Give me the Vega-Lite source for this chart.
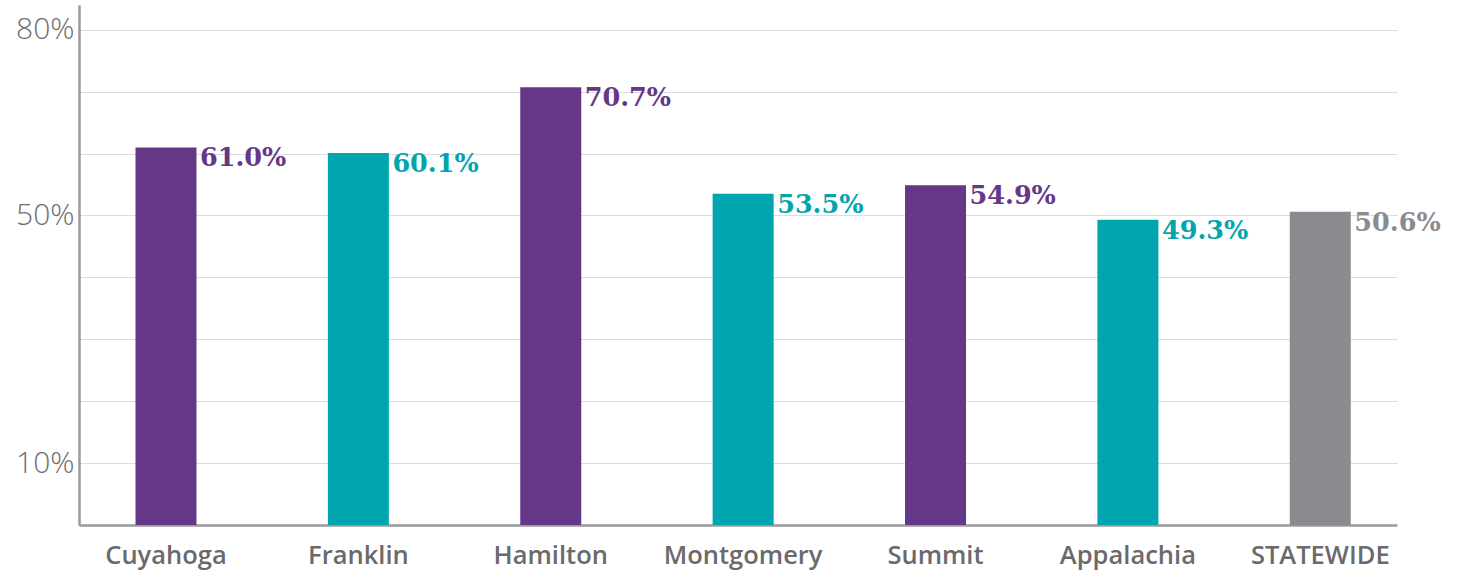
{
  "$schema": "https://vega.github.io/schema/vega-lite/v6.json",
  "autosize": "none",
  "width": 1318,
  "height": 520,
  "padding": {"left": 79, "top": 5, "right": 60, "bottom": 46},
  "background": "white",
  "config": {"view": {"stroke": null}},
  "data": {"values": [
    {"region": "Cuyahoga", "value": 61.0, "label": "61.0%", "grp": "a"},
    {"region": "Franklin", "value": 60.1, "label": "60.1%", "grp": "b"},
    {"region": "Hamilton", "value": 70.7, "label": "70.7%", "grp": "a"},
    {"region": "Montgomery", "value": 53.5, "label": "53.5%", "grp": "b"},
    {"region": "Summit", "value": 54.9, "label": "54.9%", "grp": "a"},
    {"region": "Appalachia", "value": 49.3, "label": "49.3%", "grp": "b"},
    {"region": "STATEWIDE", "value": 50.6, "label": "50.6%", "grp": "c"}
  ]},
  "encoding": {
    "x": {"field": "region", "type": "nominal", "sort": null,
      "scale": {"paddingInner": 0.683, "paddingOuter": 0.267, "align": 0.55},
      "axis": {"title": null, "labelAngle": 0, "ticks": false, "labelPadding": 18,
        "labelFont": "Open Sans", "labelFontWeight": 600, "labelFontSize": 25.5, "labelColor": "#6a6a6c",
        "domainColor": "#9a9a9c", "domainWidth": 2.5}},
    "y": {"field": "value", "type": "quantitative",
      "scale": {"domain": [0, 84], "nice": false},
      "axis": {"title": null, "values": [10, 20, 30, 40, 50, 60, 70, 80], "ticks": false,
        "labelExpr": "indexof([10,50,80], datum.value) >= 0 ? datum.value + '%' : ''",
        "labelFont": "Open Sans", "labelFontWeight": 300, "labelFontSize": 30, "labelColor": "#6e6e70", "labelPadding": 5,
        "gridColor": "#dcdcdc", "gridWidth": 1.2,
        "domainColor": "#9a9a9c", "domainWidth": 2.5}},
    "color": {"field": "grp", "type": "nominal", "legend": null,
      "scale": {"domain": ["a", "b", "c"], "range": ["#663787", "#00a5ad", "#8b8b8f"]}}
  },
  "layer": [
    {"mark": {"type": "bar", "size": 61}},
    {"mark": {"type": "text", "align": "left", "baseline": "top", "dx": 34, "dy": -1,
      "font": "DejaVu Serif", "fontWeight": "bold", "fontSize": 25.5},
     "encoding": {"text": {"field": "label"}}}
  ]
}
